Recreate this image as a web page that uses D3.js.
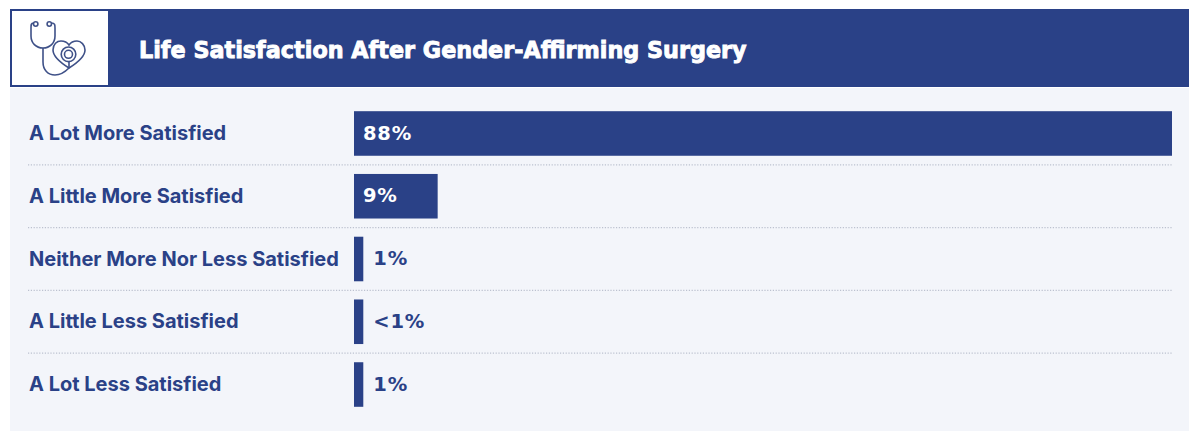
<!doctype html>
<html>
<head>
<meta charset="utf-8">
<title>Life Satisfaction After Gender-Affirming Surgery</title>
<script src="https://d3js.org/d3.v7.min.js"></script>
<style>
    html, body { margin: 0; padding: 0; background: #fff; }
    svg { display: block; }
    .cat text { font-family: Inter, sans-serif; font-weight: 700; font-size: 20px; fill: #2a4187; }
    .value { font-family: "DejaVu Sans", sans-serif; font-weight: 700; font-size: 19.5px; letter-spacing: 0.8px; }
    .title { font-family: "DejaVu Sans", sans-serif; font-weight: 700; font-size: 22.3px; fill: #fff; stroke: #fff; stroke-width: 0.9px; }
</style>
</head>
<body>
<svg width="1200" height="441"></svg>
<script>
var titleText = "Life Satisfaction After Gender-Affirming Surgery";
var categories = ["A Lot More Satisfied", "A Little More Satisfied", "Neither More Nor Less Satisfied", "A Little Less Satisfied", "A Lot Less Satisfied"];
var percents = [88, 9, 1, 1, 1];
var valueLabels = ["88%", "9%", "1%", "<1%", "1%"];

var navy = "#2a4187";
var svg = d3.select("svg");

// panel and header
svg.append("rect").attr("x", 10).attr("y", 88).attr("width", 1179).attr("height", 343).attr("fill", "#f3f5fa");
svg.append("rect").attr("x", 10).attr("y", 9).attr("width", 1179).attr("height", 78).attr("fill", navy);
svg.append("rect").attr("x", 12).attr("y", 11).attr("width", 96).attr("height", 74).attr("fill", "#fff");

svg.append("text").attr("class", "title")
    .attr("x", 139).attr("y", 58)
    .text(titleText);

// stethoscope + heart icon
var icon = svg.append("g").attr("fill", "none").attr("stroke", "#3f5188").attr("stroke-width", 1.6);
icon.append("path").attr("d", "M33.5 23 C31 23 31 25 31 28 L31 36 C31 43 36 48 43 48 C50 48 55 43 55 36 L55 28 C55 25 55 23 51.5 23");
icon.append("circle").attr("cx", 35.7).attr("cy", 24).attr("r", 2.2);
icon.append("circle").attr("cx", 49.3).attr("cy", 24).attr("r", 2.2);
icon.append("path").attr("d", "M43 48 L43 62 C43 70 48 75 55 75 C61 75 65 72 69 68");
icon.append("path").attr("d", "M69 68 C61 63 53 57 53 50 C53 44 57 41 61 41 C64 41 67 42 69 45 C71 42 74 41 77 41 C81 41 85 45 85 50 C85 57 77 63 69 68 Z");
icon.append("path").attr("d", "M69 61.5 L69 68");
[7.3, 4].forEach(function(r) {
    icon.append("circle").attr("cx", 68.5).attr("cy", 54.3).attr("r", r);
});

// scales
var x = d3.scaleLinear().domain([0, 88]).range([354, 1172]);
var y = d3.scaleBand().domain(categories).range([93, 425]).padding(0.29);

// separators between rows
svg.append("g").selectAll("line")
    .data(categories.slice(1))
    .enter()
    .append("line")
    .attr("x1", 28).attr("x2", 1172)
    .attr("y1", function(d) { return y(d) - (y.step() - y.bandwidth()) / 2; })
    .attr("y2", function(d) { return y(d) - (y.step() - y.bandwidth()) / 2; })
    .attr("stroke", "#bcc1cf").attr("stroke-width", 1.2).attr("stroke-dasharray", "1.2 1.6");

// category labels
var catAxis = svg.append("g").attr("class", "cat")
    .attr("transform", "translate(29,0)")
    .call(d3.axisLeft(y).tickSize(0).tickPadding(0));
catAxis.select(".domain").remove();
catAxis.selectAll("text").attr("text-anchor", "start").attr("dy", "0.33em").attr("x", 0);

// bars
var rows = categories.map(function(c, i) { return { cat: c, pct: percents[i], label: valueLabels[i] }; });

svg.append("g").selectAll("rect")
    .data(rows)
    .enter()
    .append("rect")
    .attr("x", x(0))
    .attr("y", function(d) { return y(d.cat); })
    .attr("width", function(d) { return x(d.pct) - x(0); })
    .attr("height", y.bandwidth())
    .attr("fill", navy);

// value labels, inside wide bars and outside thin ones
svg.append("g").selectAll("text")
    .data(rows)
    .enter()
    .append("text")
    .attr("class", "value")
    .attr("x", function(d) { return d.pct > 5 ? x(0) + 9 : x(d.pct) + 10; })
    .attr("y", function(d) { return y(d.cat) + y.bandwidth() / 2; })
    .attr("dy", "0.31em")
    .attr("fill", function(d) { return d.pct > 5 ? "#fff" : navy; })
    .text(function(d) { return d.label; });
</script>
</body>
</html>
